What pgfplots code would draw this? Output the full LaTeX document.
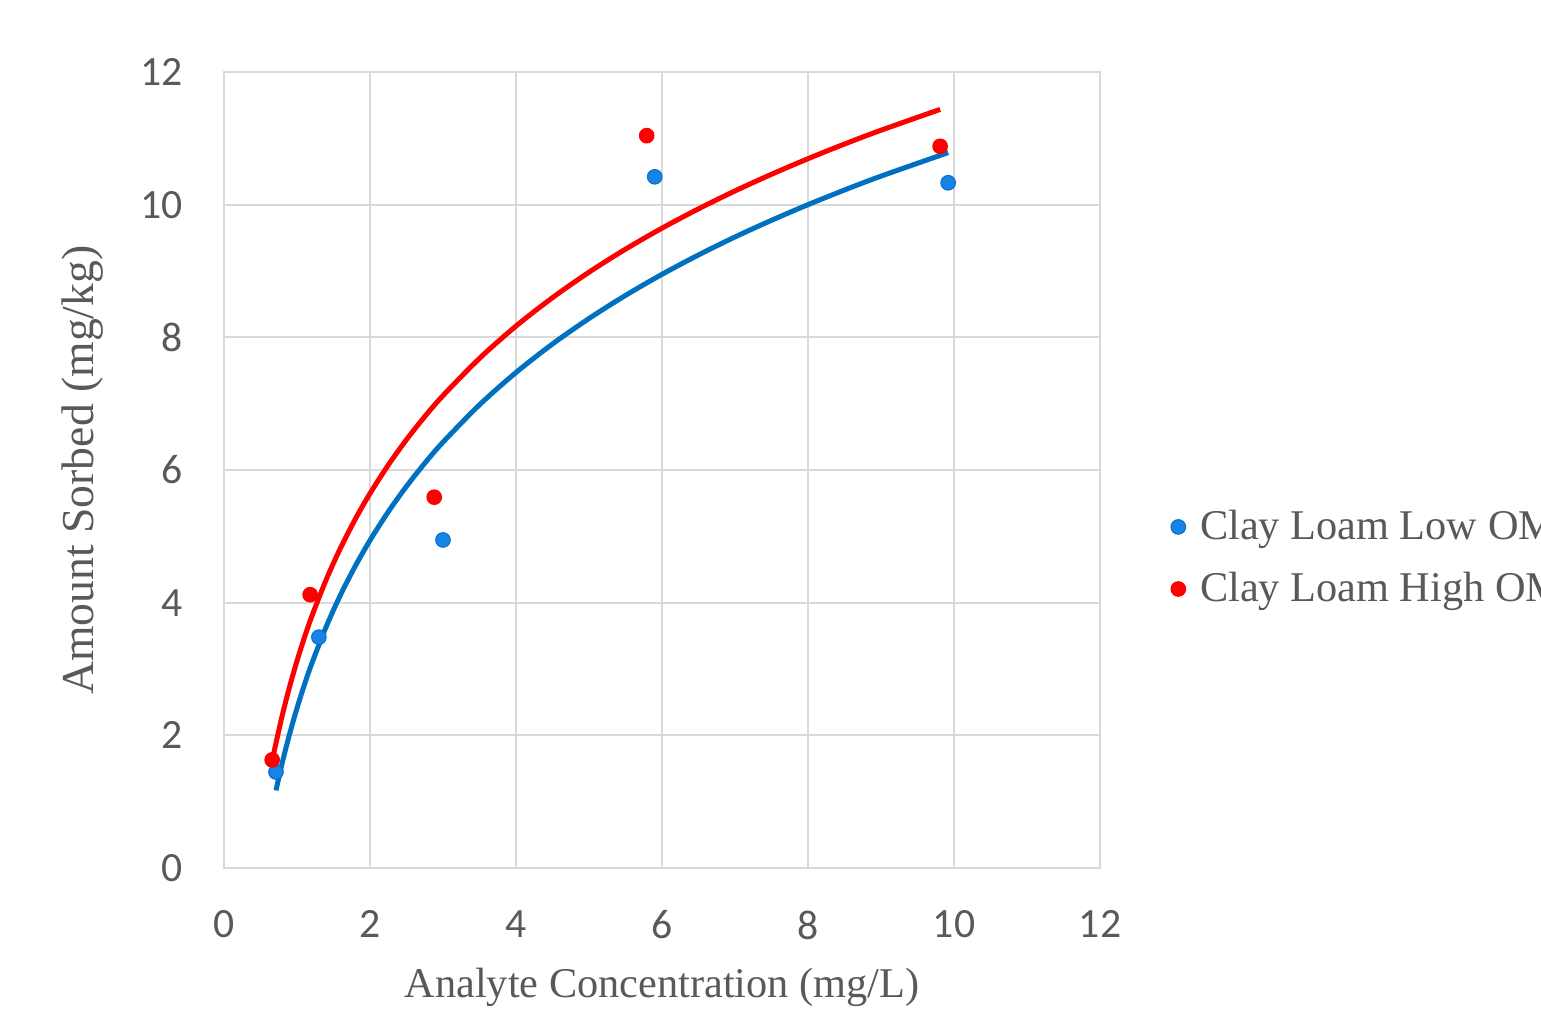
\documentclass[border=0pt]{standalone}
\usepackage{fontspec}
\setmainfont{Liberation Serif}
\newfontfamily\carlito{Carlito}
\usepackage{pgfplots}
\pgfplotsset{compat=1.18}
\definecolor{txtgray}{HTML}{595959}
\definecolor{gridgray}{HTML}{D9D9D9}
\definecolor{mblue}{HTML}{1584E6}
\definecolor{mblueedge}{HTML}{0A6FC2}
\definecolor{lblue}{HTML}{0070C0}
\definecolor{mred}{HTML}{FF0000}
\begin{document}
\begin{tikzpicture}
\path[use as bounding box] (0,0) rectangle (462.3pt,305.1pt);
\begin{axis}[
  at={(67.2pt,44.7pt)}, anchor=south west,
  scale only axis, width=262.8pt, height=238.8pt,
  xmin=0, xmax=12, ymin=0, ymax=12,
  xtick={0,2,...,12}, ytick={0,2,...,12},
  grid=major, major grid style={gridgray, line width=0.6pt},
  axis line style={gridgray, line width=0.6pt},
  major tick length=0pt,
  /pgf/number format/assume math mode=true,
  ticklabel style={font=\carlito\fontsize{12.5}{15}\selectfont, text=txtgray},
  yticklabel style={anchor=east, inner sep=0pt, xshift=-12.3pt},
  xticklabel style={anchor=north, inner sep=0pt, yshift=-12.6pt},
  xlabel={Analyte Concentration (mg/L)},
  ylabel={Amount Sorbed (mg/kg)},
  every axis x label/.style={at={(axis description cs:0.5,-0.16206)}, anchor=base,
    font=\fontsize{12.7}{15}\selectfont, text=txtgray},
  every axis y label/.style={at={(axis description cs:-0.1495,0.5)}, anchor=base, rotate=90,
    font=\fontsize{13.7}{16}\selectfont, text=txtgray},
  legend style={at={(axis description cs:1.0799,0.3895)}, anchor=west, draw=none, fill=none,
    inner sep=0pt, row sep=8.3pt, font=\fontsize{12.7}{15}\selectfont, text=txtgray,
    nodes={inner sep=0pt}},
  legend cell align=left,
  legend image code/.code={\draw[#1] plot coordinates {(2.1pt,0pt)}; \path (0pt,0pt) (8.4pt,0pt);},
]
\addplot[only marks, mark=*, mark size=2.2pt, mark options={fill=mblue, draw=mblueedge, line width=0.3pt}]
  coordinates {(0.712,1.447) (1.30,3.48) (3.00,4.945) (5.90,10.42) (9.92,10.33)};
\addlegendentry{Clay Loam Low OM}
\addplot[only marks, mark=*, mark size=2.2pt, mark options={fill=mred, draw=mred, line width=0.3pt}]
  coordinates {(0.66,1.63) (1.18,4.12) (2.88,5.59) (5.79,11.04) (9.81,10.88)};
\addlegendentry{Clay Loam High OM}
\addplot[forget plot, no marks, smooth, lblue, line width=1.5pt] coordinates {
 (0.712,1.170) (0.8,1.596) (0.9,2.025) (1.0,2.410) (1.1,2.758) (1.2,3.075) (1.4,3.638) (1.6,4.126)
 (1.8,4.555) (2.0,4.940) (2.25,5.370) (2.5,5.754) (2.75,6.102) (3,6.420) (3.5,6.983) (4,7.470) (4.5,7.900)
 (5,8.284) (5.5,8.632) (6,8.950) (6.5,9.242) (7,9.513) (7.5,9.764) (8,10.000) (8.5,10.221) (9,10.430) (9.92,10.785)};
\addplot[forget plot, no marks, smooth, mred, line width=1.5pt] coordinates {
 (0.66,1.609) (0.7,1.823) (0.8,2.310) (0.9,2.738) (1.0,3.122) (1.1,3.469) (1.2,3.786) (1.4,4.347)
 (1.6,4.833) (1.8,5.262) (2.0,5.646) (2.25,6.075) (2.5,6.458) (2.75,6.805) (3,7.122) (3.5,7.683) (4,8.170)
 (4.5,8.598) (5,8.982) (5.5,9.329) (6,9.646) (6.5,9.937) (7,10.207) (7.5,10.458) (8,10.693) (8.5,10.914)
 (9,11.122) (9.81,11.436)};
\end{axis}
\end{tikzpicture}
\end{document}
